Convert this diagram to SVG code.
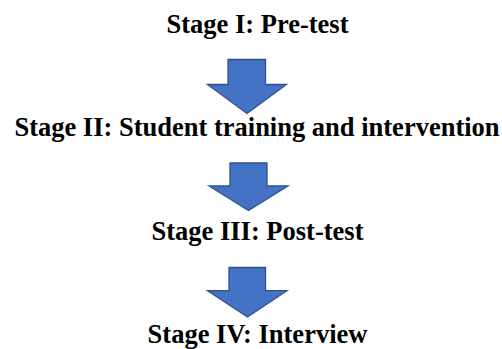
<svg xmlns="http://www.w3.org/2000/svg" width="502" height="349" viewBox="0 0 502 349">
<style>
.lbl{font-family:"Liberation Serif","Times New Roman",serif;font-weight:bold;font-size:26.5px;fill:#000;text-anchor:middle}
.arr{fill:#4472C4;stroke:#2F528F;stroke-width:1.3;stroke-linejoin:miter}
</style>
<rect width="502" height="349" fill="#fff"/>
<g id="stage1"><text class="lbl" x="257.5" y="32.5">Stage I: Pre-test</text></g>
<g id="stage2"><text class="lbl" x="257" y="136">Stage II: Student training and intervention</text></g>
<g id="stage3"><text class="lbl" x="257.5" y="239.5">Stage III: Post-test</text></g>
<g id="stage4"><text class="lbl" x="257.5" y="342.5">Stage IV: Interview</text></g>
<g id="connectors">
<path class="arr" d="M228,59.5 H265.5 V84.5 H286.5 L247,113.5 L207.5,84.5 H228 Z"/>
<path class="arr" d="M230,163 H267 V186 H288 L248.5,210.5 L209,186 H230 Z"/>
<path class="arr" d="M229,267.5 H265.5 V290.7 H287 L247.5,317 L207.5,290.7 H229 Z"/>
</g>
</svg>
